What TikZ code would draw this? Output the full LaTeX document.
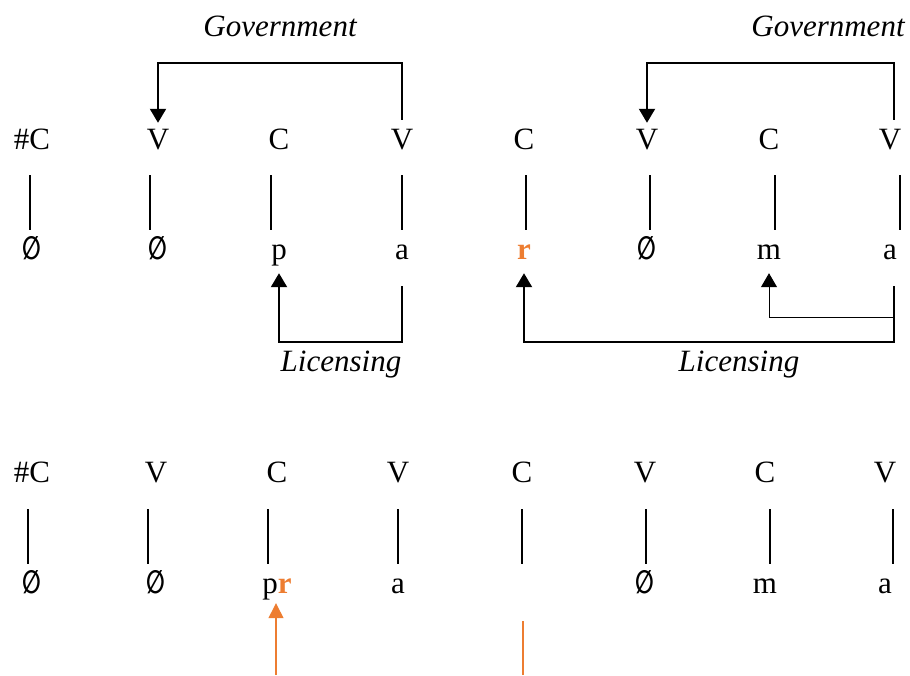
\documentclass[tikz,border=0pt]{standalone}
\usepackage{fontspec}
\usepackage{graphicx}
\setmainfont{Liberation Serif}
\newfontfamily\symfont{DejaVu Sans}
\usetikzlibrary{arrows.meta}
\definecolor{rorange}{HTML}{ED7D31}
\newcommand{\emp}{\scalebox{0.78}[1.15]{\symfont\bfseries\fontsize{28}{32}\selectfont ∅}}
\newcommand{\redr}{\textcolor{rorange}{\textbf{r}}}

\begin{document}
\begin{tikzpicture}[x=1pt,y=1pt,
  seg/.style={font=\fontsize{31}{36}\selectfont,inner sep=0pt,anchor=base,
    text height=20pt,text depth=0pt},
  tag/.style={font=\fontsize{31}{36}\selectfont\itshape,inner sep=0pt,anchor=base},
  assoc/.style={line width=2pt},
  rel/.style={line width=2pt,-{Triangle[width=16pt,length=14pt]}},
  weak/.style={line width=1pt,-{Triangle[width=16pt,length=14pt]}},
  drift/.style={rorange,line width=1.3pt}]
  \useasboundingbox (0,0) rectangle (910,675);
  % upper form
  \foreach \i/\x/\sk/\mel/\dx in {1/32/\#C/\emp/-2, 2/158/V/\emp/-8,
      3/279/C/p/-8, 4/402/V/a/0, 5/524/C/\redr/2, 6/647/V/\emp/3,
      7/769/C/m/6, 8/890/V/a/10}{
    \node[seg] (s\i) at (\x,525) {\sk};
    \node[seg] (m\i) at (\x,415) {\mel};
    \draw[assoc,shorten <=25pt,shorten >=10pt]
      ([xshift=\dx pt]s\i.south) -- ([xshift=\dx pt]m\i.north);
  }
  \draw[rel,shorten <=10pt,shorten >=7pt] (s4.north) -- ++(0,67) -| (s2.north);
  \draw[rel,shorten <=10pt,shorten >=7pt] ([xshift=4pt]s8.north) -- ++(0,67) -| (s6.north);
  \node[tag] (gov1) at (280,638) {Government};
  \node[tag] (gov2) at (828,638) {Government};
  \draw[rel,shorten <=26pt,shorten >=13pt] (m4.south) -- ++(0,-82) -| (m3.south);
  \draw[rel,shorten <=26pt,shorten >=13pt] ([xshift=4pt]m8.south) -- ++(0,-82) -| (m5.south);
  \draw[weak,shorten <=26pt,shorten >=13pt] ([xshift=4pt]m8.south) -- ++(0,-57) -| (m7.south);
  \node[tag] (lic1) at (341,303) {Licensing};
  \node[tag] (lic2) at (739,303) {Licensing};
  % lower form
  \foreach \i/\x/\sk/\mel/\dx in {1/32/\#C/\emp/-4, 2/156/V/\emp/-8,
      3/277/C/p\redr/-9, 4/398/V/a/0, 5/522/C/{}/0, 6/645/V/\emp/1,
      7/765/C/m/5, 8/885/V/a/8}{
    \node[seg] (t\i) at (\x,192) {\sk};
    \node[seg] (n\i) at (\x,82) {\mel};
    \draw[assoc,shorten <=26pt,shorten >=9pt]
      ([xshift=\dx pt]t\i.south) -- ([xshift=\dx pt]n\i.north);
  }
  \coordinate (o1) at (276,0);
  \draw[drift,-{Triangle[width=15pt,length=15pt]},shorten >=10pt] (o1) -- (o1 |- n3.south);
  \coordinate (o2) at (523,0);
  \coordinate (o2top) at (523,54);
  \draw[drift] (o2) -- (o2top);
\end{tikzpicture}
\end{document}
